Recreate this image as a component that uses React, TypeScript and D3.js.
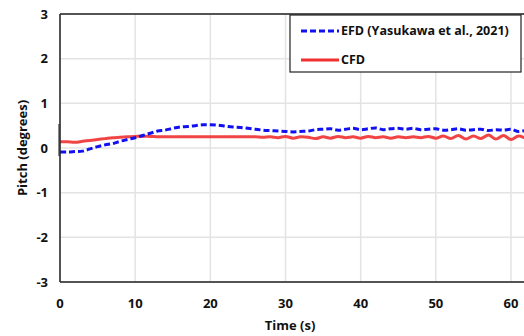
import React from "react";
import * as d3 from "d3";

const xTicks = [0, 10, 20, 30, 40, 50, 60];
const yTicks = [-3, -2, -1, 0, 1, 2, 3];

const efdTime = d3.range(0, 63);
const efdPitch = [
  -0.09, -0.09, -0.08, -0.07, -0.02, 0.03, 0.07, 0.1, 0.15, 0.19, 0.23, 0.28, 0.33, 0.38, 0.4, 0.44,
  0.47, 0.48, 0.5, 0.52, 0.52, 0.51, 0.49, 0.47, 0.46, 0.44, 0.42, 0.4, 0.39, 0.38, 0.37, 0.36,
  0.37, 0.38, 0.41, 0.42, 0.43, 0.4, 0.42, 0.44, 0.41, 0.43, 0.45, 0.41, 0.43, 0.44, 0.42, 0.44,
  0.41, 0.42, 0.43, 0.4, 0.41, 0.43, 0.4, 0.41, 0.42, 0.39, 0.41, 0.4, 0.42, 0.37, 0.4,
];

const cfdTime = d3.range(0, 63);
const cfdPitch = [
  0.14, 0.14, 0.13, 0.15, 0.17, 0.19, 0.21, 0.23, 0.24, 0.25, 0.26, 0.26, 0.26, 0.25, 0.25, 0.25,
  0.25, 0.25, 0.25, 0.25, 0.25, 0.25, 0.25, 0.25, 0.25, 0.25, 0.25, 0.24, 0.25, 0.23, 0.26, 0.22,
  0.25, 0.24, 0.21, 0.25, 0.22, 0.26, 0.23, 0.25, 0.22, 0.26, 0.23, 0.25, 0.22, 0.25, 0.23, 0.25,
  0.23, 0.26, 0.22, 0.27, 0.21, 0.28, 0.2, 0.27, 0.21, 0.29, 0.2, 0.28, 0.19, 0.27, 0.21,
];

const seriesNames = ["EFD (Yasukawa et al., 2021)", "CFD"];

const W = 524;
const H = 336;
const left = 60;
const top = 14;
const bottom = 282;
const right = 524;

const font = "'Open Sans', 'Liberation Sans', sans-serif";

export default function App() {
  const x = d3.scaleLinear().domain([0, 60]).range([left, 511]);
  const y = d3.scaleLinear().domain([-3, 3]).range([bottom, top]);
  const line = d3
    .line<[number, number]>()
    .x((d) => x(d[0]))
    .y((d) => y(d[1]))
    .curve(d3.curveCatmullRom);
  const efd = line(efdTime.map((t, i) => [t, efdPitch[i]]));
  const cfd = line(cfdTime.map((t, i) => [t, cfdPitch[i]]));

  return (
    <svg
      width={W}
      height={H}
      style={{ position: "absolute", left: 0, top: 0, background: "#fff" }}
      fontFamily={font}
    >
      <defs>
        <clipPath id="plot">
          <rect x={left} y={top} width={right - left} height={bottom - top} />
        </clipPath>
      </defs>
      {xTicks.map((t) => (
        <line key={"gx" + t} x1={x(t)} x2={x(t)} y1={top} y2={bottom} stroke="#e3e3e3" strokeWidth={1.5} />
      ))}
      {yTicks.map((t) => (
        <line key={"gy" + t} x1={left} x2={right} y1={y(t)} y2={y(t)} stroke="#e3e3e3" strokeWidth={1.5} />
      ))}
      <line x1={left} x2={right} y1={top} y2={top} stroke="#222" strokeWidth={1.5} />
      <g clipPath="url(#plot)">
        <path d={cfd || ""} fill="none" stroke="#f03030" strokeWidth={3} strokeLinejoin="round" opacity={0.9} />
        <path d={efd || ""} fill="none" stroke="#1010f0" strokeWidth={3} strokeDasharray="6 3" />
      </g>
      <line x1={left - 1} x2={left - 1} y1={124} y2={156} stroke="#888" strokeWidth={2} />
      <line x1={left} x2={left} y1={top} y2={bottom} stroke="#222" strokeWidth={1.5} />
      <line x1={left} x2={right} y1={bottom} y2={bottom} stroke="#222" strokeWidth={1.5} />
      {yTicks.map((t) => (
        <text key={"ty" + t} x={48} y={y(t)} dy="0.35em" textAnchor="end" fontSize={13} fontWeight="bold" fill="#111">
          {t}
        </text>
      ))}
      {xTicks.map((t) => (
        <text key={"tx" + t} x={x(t)} y={303} dy="0.35em" textAnchor="middle" fontSize={13} fontWeight="bold" fill="#111">
          {t}
        </text>
      ))}
      <text x={290} y={325} dy="0.35em" textAnchor="middle" fontSize={13} fontWeight="bold" fill="#111">
        Time (s)
      </text>
      <text
        transform={`translate(22,${(top + bottom) / 2}) rotate(-90)`}
        textAnchor="middle"
        dy="0.35em"
        fontSize={13}
        fontWeight="bold"
        fill="#111"
      >
        Pitch (degrees)
      </text>
      <rect x={290} y={15} width={231} height={57} fill="#fff" stroke="#222" strokeWidth={1.2} />
      <line x1={301} x2={339} y1={31} y2={31} stroke="#1010f0" strokeWidth={3} strokeDasharray="6 3" />
      <line x1={301} x2={339} y1={60} y2={60} stroke="#f03030" strokeWidth={3} />
      <text x={341} y={31} dy="0.35em" fontSize={12.5} fontWeight="bold" fill="#111">
        {seriesNames[0]}
      </text>
      <text x={341} y={60} dy="0.35em" fontSize={12.5} fontWeight="bold" fill="#111">
        {seriesNames[1]}
      </text>
    </svg>
  );
}
